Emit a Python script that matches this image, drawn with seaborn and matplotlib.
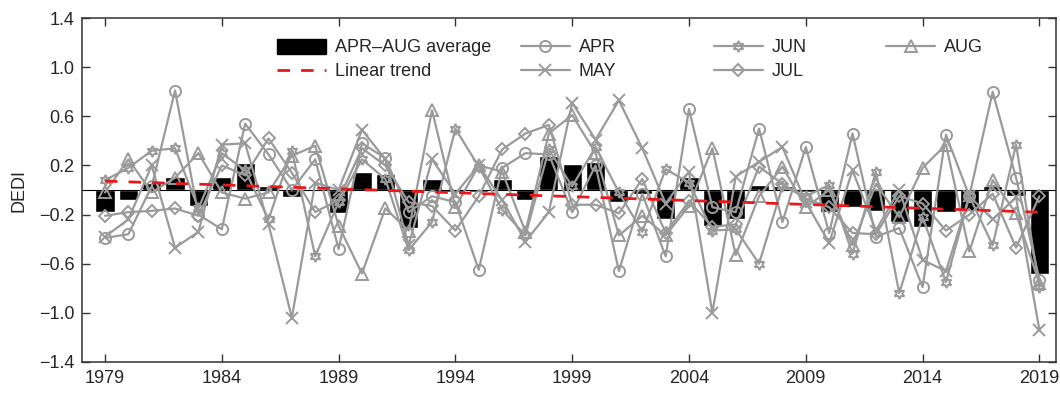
import numpy as np
import pandas as pd
import seaborn as sns
import matplotlib

matplotlib.use('Agg')
import matplotlib.pyplot as plt
from matplotlib.patches import Patch
from matplotlib.lines import Line2D

# years and monthly DEDI values
years = list(range(1979, 2020))

apr = [-0.39, -0.36, 0.03, 0.81, -0.20, -0.32, 0.54, 0.29, 0.00, 0.25,
       -0.48, 0.38, 0.26, -0.18, -0.05, -0.10, -0.65, 0.18, 0.30, 0.29,
       -0.18, 0.20, -0.66, -0.03, -0.54, 0.66, -0.14, -0.18, 0.50, -0.26,
       0.35, -0.35, 0.46, -0.38, -0.31, -0.79, 0.45, -0.05, 0.80, 0.10, -0.73]
may = [-0.38, -0.24, 0.20, -0.47, -0.34, 0.37, 0.38, -0.28, -1.04, 0.06,
       0.00, 0.49, 0.25, -0.45, 0.25, -0.03, 0.20, -0.08, -0.42, -0.18,
       0.71, 0.41, 0.73, 0.34, -0.11, 0.15, -1.00, 0.11, 0.23, 0.35,
       -0.10, -0.43, 0.16, -0.33, 0.00, -0.57, -0.66, -0.05, -0.24, -0.06, -1.14]
jun = [0.08, 0.18, 0.32, 0.34, -0.15, 0.30, 0.16, -0.24, 0.32, -0.54,
       -0.10, 0.25, 0.09, -0.49, -0.26, 0.50, 0.19, -0.16, -0.37, 0.33,
       0.03, 0.35, -0.02, -0.34, 0.17, 0.06, -0.33, -0.32, -0.60, 0.03,
       -0.05, 0.04, -0.52, 0.15, -0.84, -0.22, -0.75, -0.05, -0.45, 0.37, -0.79]
jul = [-0.21, -0.18, -0.17, -0.15, -0.21, 0.20, 0.12, 0.42, 0.14, -0.18,
       -0.08, 0.34, 0.20, -0.10, -0.13, -0.33, -0.05, 0.33, 0.46, 0.53,
       -0.12, -0.12, -0.19, 0.09, -0.35, -0.09, -0.30, -0.28, 0.19, 0.05,
       -0.07, -0.14, -0.35, -0.36, -0.05, -0.11, -0.33, -0.20, -0.03, -0.47, -0.05]
aug = [-0.02, 0.25, -0.02, 0.10, 0.30, -0.02, -0.07, -0.02, 0.28, 0.36,
       -0.29, -0.68, -0.15, -0.33, 0.65, -0.14, 0.20, 0.15, -0.34, 0.46,
       0.61, 0.30, -0.37, -0.21, -0.37, -0.13, 0.34, -0.53, -0.05, 0.19,
       -0.14, 0.00, -0.45, 0.05, -0.22, 0.18, 0.37, -0.50, 0.08, -0.19, -0.76]
avg = [-0.18, -0.08, 0.06, 0.11, -0.13, 0.11, 0.22, 0.03, -0.06, -0.01,
       -0.19, 0.15, 0.13, -0.31, 0.09, -0.02, -0.02, 0.09, -0.08, 0.28,
       0.21, 0.23, -0.10, -0.03, -0.24, 0.11, -0.29, -0.24, 0.04, 0.03,
       -0.02, -0.18, -0.14, -0.17, -0.26, -0.30, -0.18, -0.17, 0.03, -0.05, -0.68]

months = {'APR': (apr, 'o'), 'MAY': (may, 'x'), 'JUN': (jun, (6, 1, 0)),
          'JUL': (jul, 'D'), 'AUG': (aug, '^')}

sns.set_style("ticks")
plt.rcParams['font.family'] = ['Liberation Sans', 'DejaVu Sans']

grey = '#9a9a9a'
red = '#e41a1c'

fig, ax = plt.subplots(figsize=(10.6, 3.93), dpi=100)
fig.subplots_adjust(left=0.077, right=0.996, top=0.954, bottom=0.079)

sns.barplot(x=years, y=avg, native_scale=True, color='black', saturation=1,
            width=0.82, ax=ax, zorder=2)
ax.axhline(0, color='black', lw=0.8, zorder=2.5)

def month_style(mk):
    ms = 6 if mk == 'D' else 8
    return dict(color=grey, lw=1.6, marker=mk, markersize=ms, markerfacecolor='none',
                markeredgecolor=grey, markeredgewidth=1.4)

for name, (vals, mk) in months.items():
    sns.lineplot(x=years, y=vals, ax=ax, zorder=3, **month_style(mk))

# linear trend of the APR-AUG average
coef = np.polyfit(years, avg, 1)
trend = np.polyval(coef, years)
sns.lineplot(x=years, y=trend, color=red, lw=2, ax=ax, zorder=4)
ax.lines[-1].set_dashes((4.5, 4))

ax.set_xlim(1978.0, 2019.7)
ax.set_ylim(-1.4, 1.4)
ax.set_xticks(range(1979, 2020, 5))
yt = np.arange(-1.4, 1.41, 0.4)
ax.set_yticks(yt)
ax.set_yticklabels([f'{v:.1f}'.replace('-', '\u2212') for v in yt])
ax.tick_params(direction='in', top=True, right=True, length=6, width=1,
               labelsize=13, color='#333333')
ax.tick_params(axis='x', pad=6)
ax.tick_params(axis='y', pad=5)
for s in ax.spines.values():
    s.set_linewidth(1.1)
    s.set_color('#333333')
ax.set_ylabel('DEDI', fontsize=13, labelpad=8)

# legend: four separate columns placed like the original
cols = [
    [Patch(facecolor='black', edgecolor='black', label='APR\u2013AUG average'),
     Line2D([], [], color=red, lw=2, ls=(0, (4.5, 4)), label='Linear trend')],
    [Line2D([], [], label='APR', **month_style('o')),
     Line2D([], [], label='MAY', **month_style('x'))],
    [Line2D([], [], label='JUN', **month_style((6, 1, 0))),
     Line2D([], [], label='JUL', **month_style('D'))],
    [Line2D([], [], label='AUG', **month_style('^'))],
]
col_x = [0.201, 0.451, 0.649, 0.826]
for i, (hs, x0) in enumerate(zip(cols, col_x)):
    leg = ax.legend(handles=hs, frameon=False, loc='upper left',
                    bbox_to_anchor=(x0, 0.94), borderpad=0, borderaxespad=0,
                    fontsize=13, handlelength=2.7, handleheight=0.9,
                    handletextpad=0.5, labelspacing=0.35)
    if i < len(cols) - 1:
        ax.add_artist(leg)

fig.savefig('out.png', dpi=100)
